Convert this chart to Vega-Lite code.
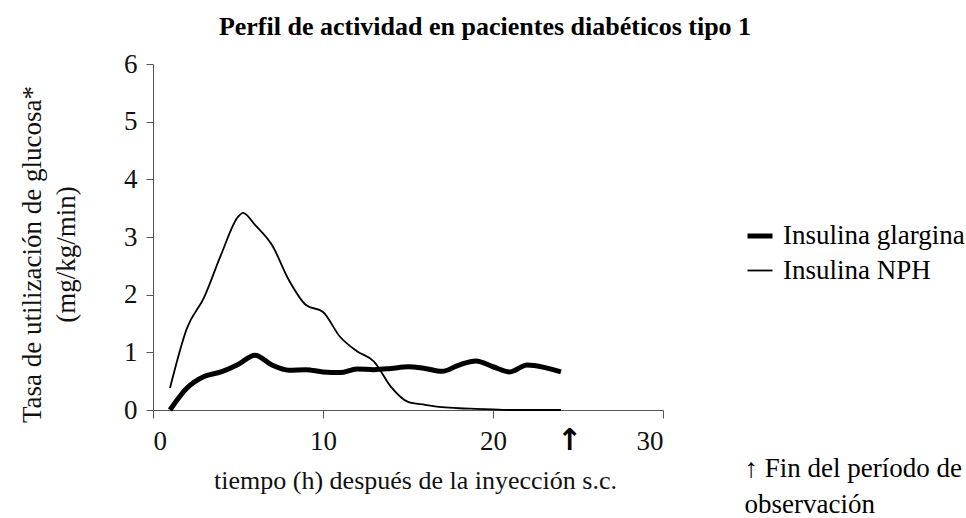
{
  "$schema": "https://vega.github.io/schema/vega-lite/v6.json",
  "autosize": "none",
  "width": 510,
  "height": 346,
  "padding": {"left": 153, "top": 64, "right": 303, "bottom": 108},
  "background": "white",
  "config": {
    "view": {"stroke": null},
    "font": "Liberation Serif",
    "axis": {"grid": false, "labelFont": "Liberation Serif", "titleFont": "Liberation Serif", "labelColor": "#111", "titleColor": "#111", "domainColor": "#555", "tickColor": "#555", "titleFontWeight": "normal"}
  },
  "title": {
    "text": "Perfil de actividad en pacientes diabéticos tipo 1",
    "anchor": "middle",
    "dx": 77,
    "offset": 10,
    "font": "Liberation Serif",
    "fontSize": 26,
    "fontWeight": "bold",
    "color": "#000"
  },
  "layer": [
    {
      "data": {"values": [
        {"h": 1, "v": 0, "series": "Insulina glargina"},
        {"h": 2, "v": 0.38, "series": "Insulina glargina"},
        {"h": 3, "v": 0.58, "series": "Insulina glargina"},
        {"h": 4, "v": 0.66, "series": "Insulina glargina"},
        {"h": 5, "v": 0.79, "series": "Insulina glargina"},
        {"h": 6, "v": 0.95, "series": "Insulina glargina"},
        {"h": 7, "v": 0.78, "series": "Insulina glargina"},
        {"h": 8, "v": 0.69, "series": "Insulina glargina"},
        {"h": 9, "v": 0.7, "series": "Insulina glargina"},
        {"h": 10, "v": 0.66, "series": "Insulina glargina"},
        {"h": 11, "v": 0.65, "series": "Insulina glargina"},
        {"h": 12, "v": 0.71, "series": "Insulina glargina"},
        {"h": 13, "v": 0.7, "series": "Insulina glargina"},
        {"h": 14, "v": 0.72, "series": "Insulina glargina"},
        {"h": 15, "v": 0.75, "series": "Insulina glargina"},
        {"h": 16, "v": 0.72, "series": "Insulina glargina"},
        {"h": 17, "v": 0.67, "series": "Insulina glargina"},
        {"h": 18, "v": 0.78, "series": "Insulina glargina"},
        {"h": 19, "v": 0.85, "series": "Insulina glargina"},
        {"h": 20, "v": 0.75, "series": "Insulina glargina"},
        {"h": 21, "v": 0.66, "series": "Insulina glargina"},
        {"h": 22, "v": 0.78, "series": "Insulina glargina"},
        {"h": 23, "v": 0.74, "series": "Insulina glargina"},
        {"h": 24, "v": 0.66, "series": "Insulina glargina"},
        {"h": 1, "v": 0.38, "series": "Insulina NPH"},
        {"h": 2, "v": 1.42, "series": "Insulina NPH"},
        {"h": 3, "v": 1.95, "series": "Insulina NPH"},
        {"h": 4, "v": 2.69, "series": "Insulina NPH"},
        {"h": 5, "v": 3.35, "series": "Insulina NPH"},
        {"h": 5.3, "v": 3.42, "series": "Insulina NPH"},
        {"h": 6, "v": 3.21, "series": "Insulina NPH"},
        {"h": 7, "v": 2.86, "series": "Insulina NPH"},
        {"h": 8, "v": 2.25, "series": "Insulina NPH"},
        {"h": 9, "v": 1.82, "series": "Insulina NPH"},
        {"h": 10, "v": 1.7, "series": "Insulina NPH"},
        {"h": 11, "v": 1.27, "series": "Insulina NPH"},
        {"h": 12, "v": 1.02, "series": "Insulina NPH"},
        {"h": 13, "v": 0.84, "series": "Insulina NPH"},
        {"h": 14, "v": 0.4, "series": "Insulina NPH"},
        {"h": 15, "v": 0.14, "series": "Insulina NPH"},
        {"h": 16, "v": 0.09, "series": "Insulina NPH"},
        {"h": 17, "v": 0.05, "series": "Insulina NPH"},
        {"h": 18, "v": 0.03, "series": "Insulina NPH"},
        {"h": 19, "v": 0.02, "series": "Insulina NPH"},
        {"h": 20, "v": 0.01, "series": "Insulina NPH"},
        {"h": 21, "v": 0, "series": "Insulina NPH"},
        {"h": 22, "v": 0, "series": "Insulina NPH"},
        {"h": 23, "v": 0, "series": "Insulina NPH"},
        {"h": 24, "v": 0, "series": "Insulina NPH"}
      ]},
      "mark": {"type": "line", "interpolate": "monotone", "color": "#000", "strokeCap": "butt", "strokeJoin": "round"},
      "encoding": {
        "x": {
          "field": "h", "type": "quantitative",
          "scale": {"domain": [0, 30], "nice": false},
          "axis": {"values": [0, 10, 20, 30], "format": "d", "labelFontSize": 27, "tickSize": 8, "labelPadding": 10,
                   "title": "tiempo (h) después de la inyección s.c.", "titleFontSize": 26, "titleBaseline": "alphabetic", "titleY": 78, "titleX": 262}
        },
        "y": {
          "field": "v", "type": "quantitative",
          "scale": {"domain": [0, 6], "nice": false},
          "axis": {"values": [0, 1, 2, 3, 4, 5, 6], "format": "d", "labelFontSize": 27, "tickSize": 7, "labelPadding": 9,
                   "title": ["Tasa de utilización de glucosa*", "(mg/kg/min)"], "titleFontSize": 27, "titleLineHeight": 34,
                   "titleAngle": -90, "titleBaseline": "middle", "titleAlign": "center", "titleX": -121, "titleY": 190}
        },
        "strokeWidth": {
          "field": "series", "type": "nominal",
          "scale": {"domain": ["Insulina glargina", "Insulina NPH"], "range": [5, 1.8]},
          "legend": {"title": null, "orient": "none", "legendX": 592, "legendY": 157, "symbolType": "stroke", "symbolSize": 625, "symbolStrokeColor": "#000", "labelFont": "Liberation Serif", "labelFontSize": 27, "labelColor": "#000", "labelOffset": 8, "labelLimit": 400, "rowPadding": 7}
        },
        "detail": {"field": "series"}
      }
    },
    {
      "data": {"values": [{"h": 24.5, "label": "↑"}]},
      "mark": {"type": "text", "font": "DejaVu Sans", "fontSize": 30, "fontWeight": "bold", "baseline": "alphabetic", "dy": 40, "color": "#000"},
      "encoding": {
        "x": {"field": "h", "type": "quantitative"},
        "y": {"datum": 0},
        "text": {"field": "label"}
      }
    },
    {
      "data": {"values": [{"note": "↑ Fin del período de\nobservación"}]},
      "mark": {"type": "text", "fontSize": 27, "align": "left", "baseline": "alphabetic", "lineBreak": "\n", "lineHeight": 36, "color": "#000"},
      "encoding": {
        "x": {"datum": 34.8},
        "y": {"datum": -1.16},
        "text": {"field": "note"}
      }
    }
  ]
}
